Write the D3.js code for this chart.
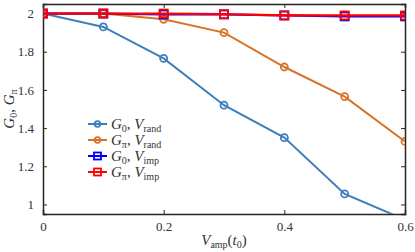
<!DOCTYPE html>
<html>
<head>
<meta charset="utf-8">
<script src="https://cdn.jsdelivr.net/npm/d3@7"></script>
<style>
body { margin: 0; background: #fff; }
text { font-family: "Liberation Serif", "DejaVu Serif", serif; fill: #333; }
</style>
</head>
<body>
<script>
const w = 415;
const h = 252;
const m = {top: 4, right: 10, bottom: 38, left: 43};

const xValues = [0, 0.1, 0.2, 0.3, 0.4, 0.5, 0.6];
const g0Rand = [2, 1.93, 1.765, 1.52, 1.35, 1.055, 0.92];
const gpiRand = [2, 2, 1.97, 1.90, 1.72, 1.565, 1.33];
const g0Imp = [2, 2, 1.995, 1.995, 1.99, 1.985, 1.985];
const gpiImp = [2, 2, 2, 1.997, 1.99, 1.99, 1.99];
const xTicks = [0, 0.2, 0.4, 0.6];
const yTicks = [1, 1.2, 1.4, 1.6, 1.8, 2];

const series = [
	{vals: g0Rand, color: '#3d7fbd', marker: 'circle', g: '0', v: 'rand'},
	{vals: gpiRand, color: '#d8732a', marker: 'circle', g: 'π', v: 'rand'},
	{vals: g0Imp, color: '#0000ff', marker: 'square', g: '0', v: 'imp'},
	{vals: gpiImp, color: '#ff0000', marker: 'square', g: 'π', v: 'imp'}
];

const svg = d3.select('body').append('svg')
	.attr('width', w)
	.attr('height', h);

const x = d3.scaleLinear().domain([0, 0.6]).range([m.left, w - m.right]);
const y = d3.scaleLinear().domain([0.95, 2.05]).range([h - m.bottom, m.top]);

svg.append('clipPath').attr('id', 'clip')
	.append('rect')
	.attr('x', m.left).attr('y', m.top)
	.attr('width', w - m.left - m.right)
	.attr('height', h - m.top - m.bottom);

// axes with inward ticks
const tickFmt = d => d3.format('~g')(d);
const axes = svg.append('g');
axes.append('g')
	.attr('transform', `translate(0,${h - m.bottom})`)
	.call(d3.axisBottom(x).tickValues(xTicks).tickSize(-4).tickPadding(8).tickFormat(tickFmt));
axes.append('g')
	.attr('transform', `translate(0,${m.top})`)
	.call(d3.axisTop(x).tickValues(xTicks).tickSize(-4).tickFormat(''));
axes.append('g')
	.attr('transform', `translate(${m.left},0)`)
	.call(d3.axisLeft(y).tickValues(yTicks).tickSize(-4).tickPadding(9).tickFormat(tickFmt));
axes.append('g')
	.attr('transform', `translate(${w - m.right},0)`)
	.call(d3.axisRight(y).tickValues(yTicks).tickSize(-4).tickFormat(''));

axes.selectAll('g').attr('font-family', '"Liberation Serif", serif').attr('font-size', 13);
axes.selectAll('.domain').attr('stroke', '#262626').attr('stroke-width', 1.5);
axes.selectAll('.tick line').attr('stroke', '#262626');
axes.selectAll('.tick text').attr('fill', '#333');

const line = d3.line().x((d, i) => x(xValues[i])).y(d => y(d));
const plot = svg.append('g').attr('clip-path', 'url(#clip)');

function drawMarker(sel, s, cx, cy, small) {
	if (s.marker === 'circle') {
		sel.append('circle').attr('cx', cx).attr('cy', cy).attr('r', small ? 2.8 : 3.5)
			.attr('fill', 'none').attr('stroke', s.color).attr('stroke-width', 1.8);
	} else {
		const r = small ? 3.5 : 4;
		sel.append('rect').attr('x', cx - r).attr('y', cy - r).attr('width', 2 * r).attr('height', 2 * r)
			.attr('fill', 'none').attr('stroke', s.color).attr('stroke-width', 1.8);
	}
}

series.forEach(s => {
	plot.append('path')
		.datum(s.vals)
		.attr('d', line)
		.attr('fill', 'none')
		.attr('stroke', s.color)
		.attr('stroke-width', s.marker === 'square' ? 2.2 : 2);
	s.vals.forEach((v, i) => drawMarker(plot, s, x(xValues[i]), y(v), false));
});

// legend
const legend = svg.append('g');
series.forEach((s, i) => {
	const ly = 124 + i * 16;
	legend.append('line').attr('x1', 88).attr('x2', 107).attr('y1', ly).attr('y2', ly)
		.attr('stroke', s.color).attr('stroke-width', 2);
	drawMarker(legend, s, 97.5, ly, true);
	const t = legend.append('text').attr('x', 111).attr('y', ly + 5).style('font-size', '15px');
	t.append('tspan').style('font-style', 'italic').text('G');
	t.append('tspan').attr('dy', 3).style('font-size', '10px').text(s.g);
	t.append('tspan').attr('dy', -3).text(', ');
	t.append('tspan').style('font-style', 'italic').text('V');
	t.append('tspan').attr('dy', 3).style('font-size', '10px').text(s.v);
});

// y label
const yl = svg.append('text')
	.attr('transform', `translate(14,${(m.top + h - m.bottom) / 2}) rotate(-90)`)
	.attr('text-anchor', 'middle')
	.style('font-size', '15px');
yl.append('tspan').style('font-style', 'italic').text('G');
yl.append('tspan').attr('dy', 3).style('font-size', '10px').text('0');
yl.append('tspan').attr('dy', -3).text(', ');
yl.append('tspan').style('font-style', 'italic').text('G');
yl.append('tspan').attr('dy', 3).style('font-size', '10px').text('π');

// x label
const xl = svg.append('text')
	.attr('x', (m.left + w - m.right) / 2)
	.attr('y', 245)
	.attr('text-anchor', 'middle')
	.style('font-size', '15px');
xl.append('tspan').style('font-style', 'italic').text('V');
xl.append('tspan').attr('dy', 3).style('font-size', '10px').text('amp');
xl.append('tspan').attr('dy', -3).text('(');
xl.append('tspan').style('font-style', 'italic').text('t');
xl.append('tspan').attr('dy', 3).style('font-size', '10px').text('0');
xl.append('tspan').attr('dy', -3).text(')');
</script>
</body>
</html>
